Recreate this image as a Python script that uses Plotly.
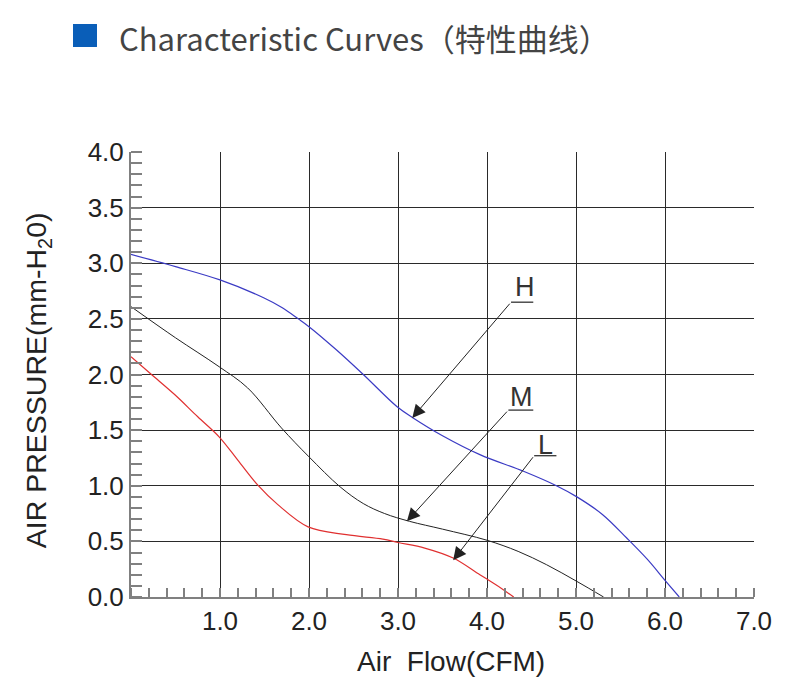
import plotly.graph_objects as go

# Curve data (Air Flow CFM vs pressure mm-H2O)
h_flow = [0.0, 0.5, 1.0, 1.49, 1.7, 1.88, 2.0, 2.31, 2.61, 2.99, 3.17, 3.5, 3.92, 4.41, 4.78, 5.01, 5.3, 5.57, 5.8, 6.0, 6.16]
h_pres = [3.08, 2.97, 2.85, 2.69, 2.60, 2.50, 2.43, 2.22, 2.0, 1.71, 1.61, 1.45, 1.28, 1.13, 1.0, 0.9, 0.74, 0.53, 0.34, 0.15, 0.0]

m_flow = [0.0, 0.5, 0.99, 1.31, 1.69, 2.0, 2.35, 2.61, 2.85, 3.13, 3.5, 4.0, 4.35, 4.67, 5.01, 5.31]
m_pres = [2.61, 2.33, 2.07, 1.88, 1.52, 1.26, 0.99, 0.84, 0.75, 0.68, 0.61, 0.51, 0.41, 0.29, 0.14, 0.0]

l_flow = [0.0, 0.23, 0.49, 0.75, 0.99, 1.2, 1.42, 1.65, 1.99, 2.42, 2.83, 3.0, 3.3, 3.62, 3.92, 4.1, 4.3]
l_pres = [2.16, 2.0, 1.82, 1.62, 1.44, 1.23, 1.01, 0.83, 0.63, 0.56, 0.52, 0.49, 0.44, 0.35, 0.20, 0.11, 0.0]

# label, text pos, underline start/end, arrow tip
labels = ["H", "M", "L"]
label_xy = [(4.43, 2.79), (4.39, 1.80), (4.66, 1.37)]
underline = [((4.27, 2.65), (4.52, 2.65)), ((4.24, 1.68), (4.52, 1.68)), ((4.53, 1.27), (4.78, 1.27))]
tips = [(3.16, 1.61), (3.10, 0.68), (3.62, 0.33)]

x_ticks = [1, 2, 3, 4, 5, 6, 7]
y_ticks = [0, 0.5, 1.0, 1.5, 2.0, 2.5, 3.0, 3.5, 4.0]

title_text = "Characteristic Curves（特性曲线）"
x_title = "Air\u00a0 Flow(CFM)"
y_title = "AIR PRESSURE(mm-H<sub>2</sub>0)"

fig = go.Figure()
fig.add_trace(go.Scatter(x=h_flow, y=h_pres, mode="lines",
                         line=dict(color="#3b3bc4", width=1.2, shape="spline", smoothing=1.0)))
fig.add_trace(go.Scatter(x=m_flow, y=m_pres, mode="lines",
                         line=dict(color="#222222", width=1.0, shape="spline", smoothing=1.0)))
fig.add_trace(go.Scatter(x=l_flow, y=l_pres, mode="lines",
                         line=dict(color="#e03030", width=1.2, shape="spline", smoothing=1.0)))

for lab, (tx, ty), (p0, p1), (ex, ey) in zip(labels, label_xy, underline, tips):
    fig.add_annotation(x=tx, y=ty, text=lab, showarrow=False,
                       font=dict(family="Liberation Sans", size=27, color="#333333"))
    fig.add_shape(type="line", x0=p0[0], y0=p0[1], x1=p1[0], y1=p1[1],
                  line=dict(color="#333333", width=1.3))
    fig.add_annotation(x=ex, y=ey, ax=p0[0], ay=p0[1], axref="x", ayref="y",
                       text="", showarrow=True, arrowhead=2, arrowsize=2.6,
                       arrowwidth=1.0, arrowcolor="#222222")

# title with blue square
fig.add_shape(type="rect", xref="paper", yref="paper",
              x0=-0.0931, x1=-0.0546, y0=1.236, y1=1.2876,
              fillcolor="#0a5eb8", line=dict(width=0))
fig.add_annotation(xref="paper", yref="paper", x=-0.0225, y=1.258, xanchor="left",
                   yanchor="middle", showarrow=False, text=title_text,
                   font=dict(family="Noto Sans CJK SC", size=31, color="#444444"))

# axis titles
fig.add_annotation(xref="paper", yref="paper", x=0.514, y=-0.146, showarrow=False,
                   text=x_title, xanchor="center", yanchor="middle",
                   font=dict(family="Liberation Sans", size=28, color="#222222"))
fig.add_annotation(xref="paper", yref="paper", x=-0.149, y=0.4876, showarrow=False,
                   text=y_title, textangle=-90, xanchor="center", yanchor="middle",
                   font=dict(family="Liberation Sans", size=28.5, color="#222222"))

fig.update_xaxes(range=[0, 7], tickvals=x_ticks, tickformat=".1f",
                 showgrid=True, gridcolor="#2a2a2a", gridwidth=1,
                 showline=True, linecolor="#808080", linewidth=2,
                 ticks="", zeroline=False,
                 minor=dict(ticks="inside", dtick=0.2, ticklen=9, tickcolor="#808080",
                            tickwidth=1.5, showgrid=False),
                 tickfont=dict(family="Liberation Sans", size=26, color="#222222"))
fig.update_yaxes(range=[0, 4], tickvals=y_ticks, tickformat=".1f",
                 showgrid=True, gridcolor="#2a2a2a", gridwidth=1,
                 showline=True, linecolor="#808080", linewidth=2,
                 ticks="", zeroline=False,
                 minor=dict(ticks="inside", dtick=0.1, ticklen=11, tickcolor="#808080",
                            tickwidth=1.5, showgrid=False),
                 tickfont=dict(family="Liberation Sans", size=26, color="#222222"))

# the page body adds 8px, so margins are shifted to keep the plot area in place
fig.update_layout(width=787, height=685, showlegend=False,
                  paper_bgcolor="white", plot_bgcolor="white",
                  margin=dict(l=123, r=41, t=144, b=96))

fig.write_html("out.html")
